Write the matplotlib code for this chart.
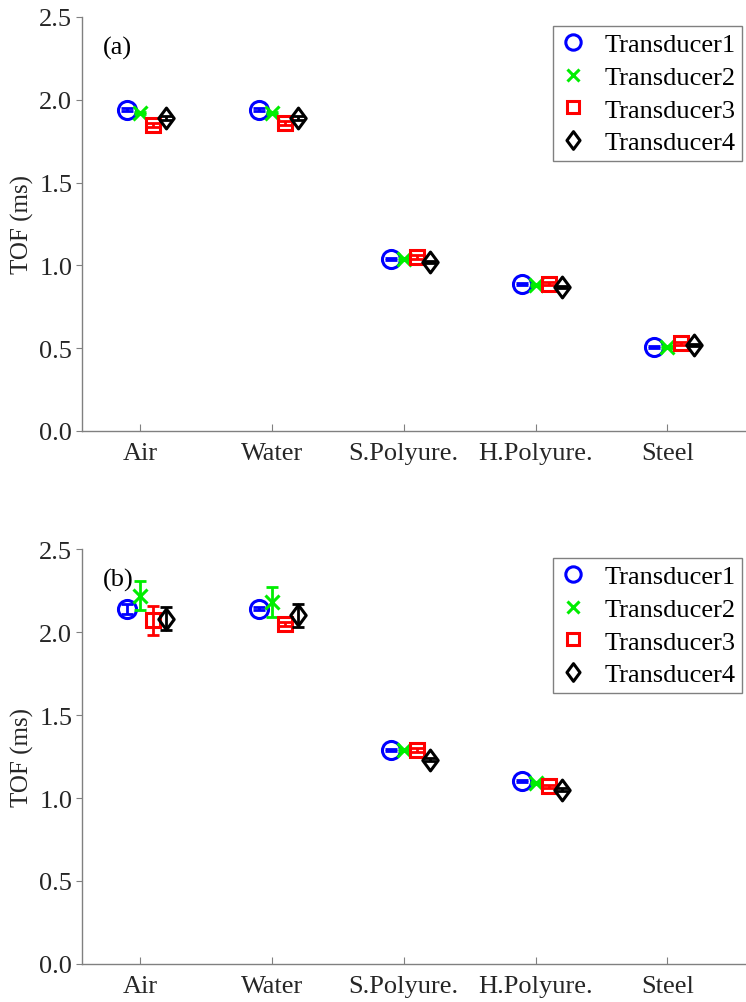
import numpy as np
import matplotlib
matplotlib.use("Agg")
import matplotlib.pyplot as plt
from matplotlib.path import Path

plt.rcParams['font.family'] = ['Liberation Serif', 'DejaVu Serif']
plt.rcParams['mathtext.fontset'] = 'stix'

categories = ["Air", "Water", "S.Polyure.", "H.Polyure.", "Steel"]
series_names = ["Transducer1", "Transducer2", "Transducer3", "Transducer4"]

# Panel (a) TOF (ms) and errors
a_t1 = [1.94, 1.94, 1.04, 0.89, 0.51]
a_t2 = [1.92, 1.92, 1.04, 0.88, 0.51]
a_t3 = [1.85, 1.86, 1.05, 0.89, 0.53]
a_t4 = [1.89, 1.89, 1.02, 0.87, 0.52]
a_e1 = [0.008, 0.008, 0.006, 0.006, 0.006]
a_e2 = [0.008, 0.008, 0.006, 0.006, 0.006]
a_e3 = [0.012, 0.012, 0.010, 0.008, 0.008]
a_e4 = [0.010, 0.010, 0.008, 0.008, 0.008]

# Panel (b) TOF (ms) and errors (no steel measurement)
b_t1 = [2.14, 2.14, 1.29, 1.10, np.nan]
b_t2 = [2.22, 2.18, 1.29, 1.09, np.nan]
b_t3 = [2.07, 2.05, 1.29, 1.07, np.nan]
b_t4 = [2.08, 2.10, 1.23, 1.05, np.nan]
b_e1 = [0.03, 0.010, 0.006, 0.006, np.nan]
b_e2 = [0.09, 0.09, 0.006, 0.006, np.nan]
b_e3 = [0.085, 0.012, 0.010, 0.008, np.nan]
b_e4 = [0.07, 0.07, 0.010, 0.008, np.nan]

yticks = [0.0, 0.5, 1.0, 1.5, 2.0, 2.5]

FS = 19
colors = ['#0000ff', '#00ee00', '#ff0000', '#000000']
diamond = Path([(0, 1.35), (1, 0), (0, -1.35), (-1, 0), (0, 1.35)],
               [Path.MOVETO, Path.LINETO, Path.LINETO, Path.LINETO, Path.CLOSEPOLY])
markers = ['o', 'x', 's', diamond]
msizes = [13, 10, 10.5, 15]
offsets = [-0.1, 0.0, 0.1, 0.2]

fig = plt.figure(figsize=(7.46, 10.03), dpi=100)
ax1 = fig.add_axes([0.110, 0.5693, 0.889, 0.4128])
ax2 = fig.add_axes([0.110, 0.0379, 0.889, 0.4137])

axis_col = '#808080'
text_col = '#262626'

def draw(ax, vals, errs, tag):
    x = np.arange(1, len(categories) + 1)
    for i, (v, e) in enumerate(zip(vals, errs)):
        ax.errorbar(x + offsets[i], v, yerr=e, fmt='none', ecolor=colors[i],
                    elinewidth=2.0, capsize=4, capthick=2.0)
        ax.plot(x + offsets[i], v, linestyle='none', marker=markers[i],
                color=colors[i], mfc='none', mec=colors[i], mew=2.2,
                ms=msizes[i], label=series_names[i])
    ax.set_xlim(0.56, 5.59)
    ax.set_ylim(0, 2.5)
    ax.set_xticks(x)
    ax.set_xticklabels(categories)
    ax.set_yticks(yticks)
    ax.set_yticklabels([f"{t:.1f}" for t in yticks])
    ax.set_ylabel("TOF (ms)", fontsize=18, color=text_col, labelpad=4)
    for s in ['top', 'right']:
        ax.spines[s].set_visible(False)
    for s in ['left', 'bottom']:
        ax.spines[s].set_color(axis_col)
        ax.spines[s].set_linewidth(1.0)
    ax.tick_params(axis='x', direction='in', length=5, color=axis_col,
                   labelsize=FS, labelcolor=text_col, pad=8)
    ax.tick_params(axis='y', direction='out', length=4, color=axis_col,
                   labelsize=FS, labelcolor=text_col, pad=3)
    ax.text(0.032, 0.955, tag, transform=ax.transAxes, fontsize=FS,
            color='black', va='top', ha='left')
    leg = ax.legend(loc='upper right', bbox_to_anchor=(0.9955, 0.978),
                    fontsize=FS, frameon=True, fancybox=False, handlelength=1.0,
                    handletextpad=0.7, borderpad=0.25, labelspacing=0.35,
                    borderaxespad=0.0, framealpha=1.0)
    leg.get_frame().set_edgecolor(axis_col)
    leg.get_frame().set_linewidth(1.0)
    for h in leg.legend_handles:
        h.set_markersize(h.get_markersize() * 0.85)

draw(ax1, [a_t1, a_t2, a_t3, a_t4], [a_e1, a_e2, a_e3, a_e4], "(a)")
draw(ax2, [b_t1, b_t2, b_t3, b_t4], [b_e1, b_e2, b_e3, b_e4], "(b)")

fig.savefig("out.png", dpi=100)
